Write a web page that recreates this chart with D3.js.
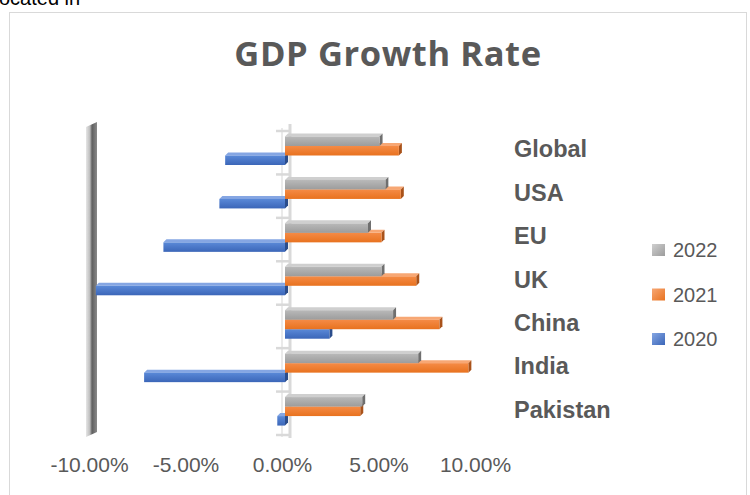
<!DOCTYPE html>
<html lang="en">
<head>
<meta charset="utf-8">
<title>GDP Growth Rate</title>
<style>
  body { margin: 0; background: #fff; }
  svg { display: block; }
  .tick text { font-family: "Liberation Sans", Arial, sans-serif; font-size: 21px; fill: #595959; }
</style>
</head>
<body>
<div id="chart"></div>
<script src="https://cdn.jsdelivr.net/npm/d3@7"></script>
<script>
var categories = ["Global", "USA", "EU", "UK", "China", "India", "Pakistan"];
var seriesNames = ["2022", "2021", "2020"];
var values2020 = [-3.1, -3.4, -6.3, -9.8, 2.3, -7.3, -0.4];
var values2021 = [5.9, 6.0, 5.0, 6.8, 8.0, 9.5, 3.9];
var values2022 = [4.9, 5.2, 4.3, 5.0, 5.6, 6.9, 4.0];
var tickValues = [-10, -5, 0, 5, 10];

var width = 750, height = 495;
var depth = 3; // fake 3d offset

var colors = {
  "2022": { face: ["#b9b9b9", "#9c9c9c"], top: "#cfcfcf", side: "#6f6f6f" },
  "2021": { face: ["#f58b46", "#e8721f"], top: "#f7a774", side: "#a9521a" },
  "2020": { face: ["#5a89d8", "#3b66b8"], top: "#85a6e3", side: "#2b4d8c" }
};
var valuesBySeries = { "2022": values2022, "2021": values2021, "2020": values2020 };

var svg = d3.select("#chart").append("svg")
    .attr("width", width)
    .attr("height", height);

var defs = svg.append("defs");
seriesNames.forEach(function(s) {
  var g = defs.append("linearGradient")
      .attr("id", "grad" + s)
      .attr("x1", 0).attr("y1", 0).attr("x2", 0).attr("y2", 1);
  g.append("stop").attr("offset", "0%").attr("stop-color", colors[s].face[0]);
  g.append("stop").attr("offset", "100%").attr("stop-color", colors[s].face[1]);
  var lg = defs.append("linearGradient")
      .attr("id", "leg" + s)
      .attr("x1", 0).attr("y1", 0).attr("x2", 1).attr("y2", 1);
  lg.append("stop").attr("offset", "0%").attr("stop-color", colors[s].top);
  lg.append("stop").attr("offset", "100%").attr("stop-color", colors[s].face[1]);
});
var wallGrad = defs.append("linearGradient")
    .attr("id", "wall")
    .attr("x1", 0).attr("y1", 0).attr("x2", 1).attr("y2", 0);
wallGrad.append("stop").attr("offset", "0%").attr("stop-color", "#e6e6e6");
wallGrad.append("stop").attr("offset", "35%").attr("stop-color", "#bdbdbd");
wallGrad.append("stop").attr("offset", "55%").attr("stop-color", "#5f5f5f");
wallGrad.append("stop").attr("offset", "100%").attr("stop-color", "#8a8a8a");

// leftover text from the page above the chart (cut by the crop, as in the source)
svg.append("text")
    .attr("x", -1).attr("y", 5)
    .style("font-family", "Liberation Sans, Arial, sans-serif")
    .style("font-size", "20px")
    .attr("fill", "#000")
    .text("ocated in");

// chart border
svg.append("rect")
    .attr("x", 9.5).attr("y", 12.5)
    .attr("width", 737).attr("height", 500)
    .attr("fill", "#fff")
    .attr("stroke", "#d9d9d9");

svg.append("text")
    .attr("x", 388).attr("y", 66)
    .attr("text-anchor", "middle")
    .style("font-family", "Open Sans, sans-serif")
    .style("font-weight", "bold")
    .style("font-size", "34.5px")
    .style("letter-spacing", "0.6px")
    .attr("fill", "#595959")
    .text("GDP Growth Rate");

var x = d3.scaleLinear().domain([-10, 10]).range([92, 478]);
var y = d3.scaleBand().domain(categories).range([131, 435]);
var ySub = d3.scaleBand().domain(seriesNames).range([5.5, 34]);

// back wall at the left end
var wx = x(-10);
svg.append("path")
    .attr("d", "M" + (wx - 6) + ",127L" + (wx + 5) + ",122L" + (wx + 5) + ",432L" + (wx - 6) + ",437Z")
    .attr("fill", "url(#wall)");

// zero axis with tick marks
var x0 = x(0);
svg.append("line")
    .attr("x1", x0 - 3).attr("x2", x0 - 3)
    .attr("y1", 128).attr("y2", 437)
    .attr("stroke", "#e3e3e3").attr("stroke-width", 1.5);
svg.append("line")
    .attr("x1", x0 + 5).attr("x2", x0 + 5)
    .attr("y1", 124).attr("y2", 438)
    .attr("stroke", "#d9d9d9").attr("stroke-width", 3);
var edges = categories.map(function(c) { return y(c); }).concat([y.range()[1]]);
svg.append("g").selectAll("line")
  .data(edges)
  .enter().append("line")
    .attr("x1", x0 - 9).attr("x2", x0 + 5)
    .attr("y1", function(d) { return d; })
    .attr("y2", function(d) { return d; })
    .attr("stroke", "#d9d9d9").attr("stroke-width", 2.5);

// bars, bottom series first so upper bars cover the top faces
var drawOrder = ["2020", "2021", "2022"];
var bars = [];
drawOrder.forEach(function(s) {
  categories.forEach(function(c, i) {
    bars.push({ series: s, cat: c, value: valuesBySeries[s][i] });
  });
});

var barG = svg.append("g").selectAll("g")
  .data(bars)
  .enter().append("g");

barG.each(function(d) {
  var g = d3.select(this);
  var x1 = Math.min(x(0), x(d.value)), x2 = Math.max(x(0), x(d.value));
  var top = y(d.cat) + ySub(d.series), h = ySub.bandwidth();
  var c = colors[d.series];
  // top face
  g.append("path")
      .attr("d", "M" + x1 + "," + top + "L" + (x1 + depth) + "," + (top - depth) +
                 "L" + (x2 + depth) + "," + (top - depth) + "L" + x2 + "," + top + "Z")
      .attr("fill", c.top);
  // end face
  g.append("path")
      .attr("d", "M" + x2 + "," + top + "L" + (x2 + depth) + "," + (top - depth) +
                 "L" + (x2 + depth) + "," + (top + h - depth) + "L" + x2 + "," + (top + h) + "Z")
      .attr("fill", c.side);
  // front face
  g.append("rect")
      .attr("x", x1).attr("y", top)
      .attr("width", x2 - x1).attr("height", h)
      .attr("fill", "url(#grad" + d.series + ")");
});

// value axis
var axis = svg.append("g")
    .attr("transform", "translate(-3,451)")
    .call(d3.axisBottom(x)
      .tickValues(tickValues)
      .tickSize(0)
      .tickPadding(6)
      .tickFormat(function(d) { return d.toFixed(2) + "%"; }));
axis.select(".domain").remove();
axis.selectAll(".tick text").attr("dy", "0.71em").attr("font-family", null).attr("font-size", null);

// category labels on the right
svg.append("g").selectAll("text")
  .data(categories)
  .enter().append("text")
    .attr("x", 514)
    .attr("y", function(d) { return y(d) + y.bandwidth() / 2 + 4.5; })
    .style("font-family", "Liberation Sans, Arial, sans-serif")
    .style("font-weight", "bold")
    .style("font-size", "23.5px")
    .attr("fill", "#595959")
    .text(function(d) { return d; });

// legend
var legend = svg.append("g").selectAll("g")
  .data(seriesNames)
  .enter().append("g")
    .attr("transform", function(d, i) { return "translate(652," + (244 + i * 44.5) + ")"; });
legend.append("rect")
    .attr("width", 13).attr("height", 12)
    .attr("fill", function(d) { return "url(#leg" + d + ")"; });
legend.append("text")
    .attr("x", 21).attr("y", 13)
    .style("font-family", "Liberation Sans, Arial, sans-serif")
    .style("font-size", "20px")
    .attr("fill", "#595959")
    .text(function(d) { return d; });
</script>
</body>
</html>
